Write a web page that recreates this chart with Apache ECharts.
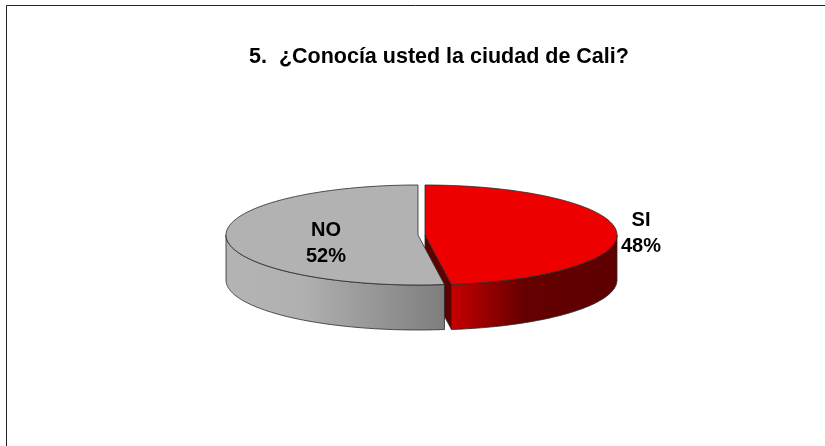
<!DOCTYPE html>
<html><head><meta charset="utf-8">
<style>html,body{margin:0;padding:0;background:#fff}#c{width:825px;height:446px}</style>
<script src="https://cdn.jsdelivr.net/npm/echarts@6/dist/echarts.min.js"></script>
</head><body><div id="c"></div>
<script>
const titleText = '5.  ¿Conocía usted la ciudad de Cali?';
const categories = ['SI', 'NO'];
const values = [47.8, 52.2];

const FONT = '"Liberation Sans", Arial, sans-serif';
const RX = 192, RY = 50, DEPTH = 45, CY = 235;
const CX = [425, 418];
const LABEL_POS = [[641, 233.5], [326, 243]];
const LINE = '#2a2a2a';
const total = values.reduce((a, b) => a + b, 0);
const sweep = values.map(v => v / total * 2 * Math.PI);

function pt(cx, a, dy) { return [cx + RX * Math.sin(a), CY - RY * Math.cos(a) + (dy || 0)]; }
function arc(cx, a0, a1, dy) {
  const n = 90, out = [];
  for (let i = 0; i <= n; i++) out.push(pt(cx, a0 + (a1 - a0) * i / n, dy));
  return out;
}
function poly(points, fill, z2) {
  return { type: 'polygon', z2: z2, shape: { points: points },
    style: { fill: fill, stroke: LINE, lineWidth: 0.8, lineJoin: 'round' } };
}
function grad(stops) {
  return new echarts.graphic.LinearGradient(0, 0, 1, 0, stops.map(s => ({ offset: s[0], color: s[1] })));
}
function renderItem(params, api) {
  const i = params.dataIndex;
  const start = i === 0 ? 0 : sweep[0];
  const end = start + sweep[i];
  const cx = CX[i];
  const children = [];
  if (i === 0) {
    const edge = pt(cx, end);
    children.push(poly([[cx, CY], edge, [edge[0], edge[1] + DEPTH], [cx, CY + DEPTH]], '#5e0000', 1));
    const wall = arc(cx, Math.PI / 2, end, 0).concat(arc(cx, end, Math.PI / 2, DEPTH));
    children.push(poly(wall, grad([[0, '#c60000'], [0.45, '#640000'], [1, '#5e0000']]), 2));
    children.push(poly([[cx, CY]].concat(arc(cx, start, end)), '#ee0000', 3));
  } else {
    const wall = arc(cx, start, 1.5 * Math.PI, 0).concat(arc(cx, 1.5 * Math.PI, start, DEPTH));
    children.push(poly(wall, grad([[0, '#b4b4b4'], [0.35, '#b0b0b0'], [1, '#7e7e7e']]), 2));
    children.push(poly([[cx, CY]].concat(arc(cx, start, end)), '#b2b2b2', 3));
  }
  children.push({ type: 'text', z2: 5, style: {
    text: categories[i] + '\n' + Math.round(values[i]) + '%',
    x: LABEL_POS[i][0], y: LABEL_POS[i][1], align: 'center', verticalAlign: 'middle',
    font: 'bold 20px ' + FONT, lineHeight: 26, fill: '#000' } });
  return { type: 'group', children: children };
}
const chart = echarts.init(document.getElementById('c'), null, { renderer: 'canvas' });
chart.setOption({
  animation: false,
  backgroundColor: '#fff',
  title: { text: titleText, left: 244, top: 41,
    textStyle: { fontFamily: FONT, fontWeight: 'bold', fontSize: 21.5, color: '#000' } },
  graphic: [
    { type: 'polyline', silent: true, shape: { points: [[6.5, 446], [6.5, 5.5], [825, 5.5]] },
      style: { stroke: '#222', lineWidth: 1, fill: null } }
  ],
  series: [{
    type: 'custom', coordinateSystem: 'none', renderItem: renderItem,
    data: categories.map((c, i) => ({ name: c, value: values[i] }))
  }]
});
</script></body></html>
